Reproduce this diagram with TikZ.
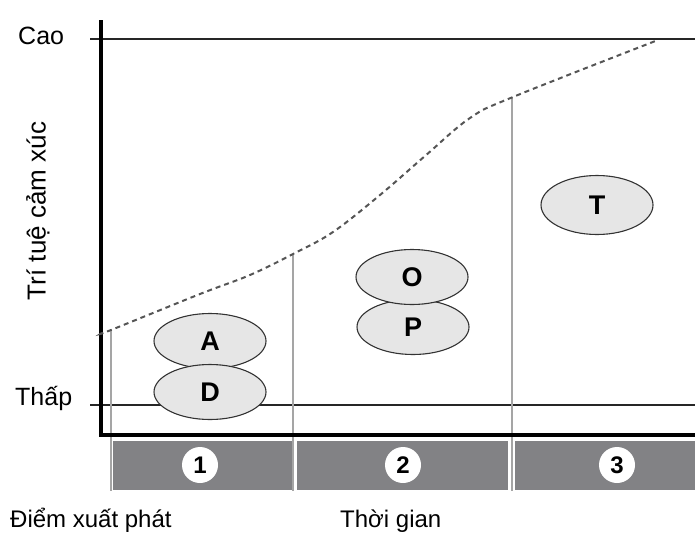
\documentclass[tikz,border=0pt]{standalone}
\usepackage{fontspec}
\setmainfont{Liberation Sans}
\usetikzlibrary{shapes.geometric}
\definecolor{barc}{RGB}{130,130,133}
\definecolor{ellc}{RGB}{230,230,230}
\definecolor{guidec}{RGB}{165,165,165}
\definecolor{dashc}{RGB}{85,85,85}
\begin{document}
\begin{tikzpicture}[x=1pt,y=-1pt,
  oval/.style={ellipse, draw=black!80, line width=1.1pt, fill=ellc, minimum width=112pt, minimum height=55pt, inner sep=0pt, font=\fontsize{27}{27}\selectfont\bfseries},
  num/.style={circle, fill=white, minimum size=36pt, inner sep=0pt, font=\fontsize{24}{24}\selectfont\bfseries},
  lbl/.style={font=\fontsize{24}{24}\selectfont, inner sep=0pt},
  guide/.style={draw=guidec, line width=1.3pt},
  level/.style={draw=black!85, line width=1.4pt},
  axisline/.style={draw=black, line width=3.2pt, line join=miter},
  trend/.style={draw=dashc, line width=2pt, dash pattern=on 5pt off 4pt}]
\useasboundingbox (0,0) rectangle (695,533);

% level lines
\draw[level] (90,39) -- (695,39);
\draw[level] (90,405) -- (695,405);

% guide lines
\draw[guide] (111,331) -- (111,491);
\draw[guide] (293,254) -- (293,491);
\draw[guide] (512,97) -- (512,491);

% axes
\draw[axisline] (101,20) -- (101,435) -- (695,435);

% trend
\draw[trend] plot[smooth, tension=0.6] coordinates {(102,333) (111,330) (200,294) (250,275) (293,254) (333,232) (380,195) (425,156) (470,118) (513,97) (658,40)};

% bars
\fill[barc] (113,441) rectangle (292,490);
\fill[barc] (297,441) rectangle (508,490);
\fill[barc] (515,441) rectangle (695,490);
\node[num] (n1) at (200,465) {1};
\node[num] (n2) at (403,465) {2};
\node[num] (n3) at (617,465) {3};

% ovals
\node[oval] (A) at (210,341) {A};
\node[oval] (D) at (210,392) {D};
\node[oval] (P) at (413,327) {P};
\node[oval] (O) at (412,277) {O};
\node[oval, minimum height=59pt] (T) at (597,205) {T};

% labels
\node[lbl, font=\fontsize{25}{25}\selectfont, anchor=base west] (cao) at (18,44) {Cao};
\node[lbl, font=\fontsize{25}{25}\selectfont, anchor=base west] (thap) at (15,405) {Thấp};
\node[lbl, font=\fontsize{26}{26}\selectfont, rotate=90] (ylab) at (38,211) {Trí tuệ cảm xúc};
\node[lbl, anchor=base west] (start) at (10,527) {Điểm xuất phát};
\node[lbl, anchor=base west] (time) at (340,527) {Thời gian};
\end{tikzpicture}
\end{document}
